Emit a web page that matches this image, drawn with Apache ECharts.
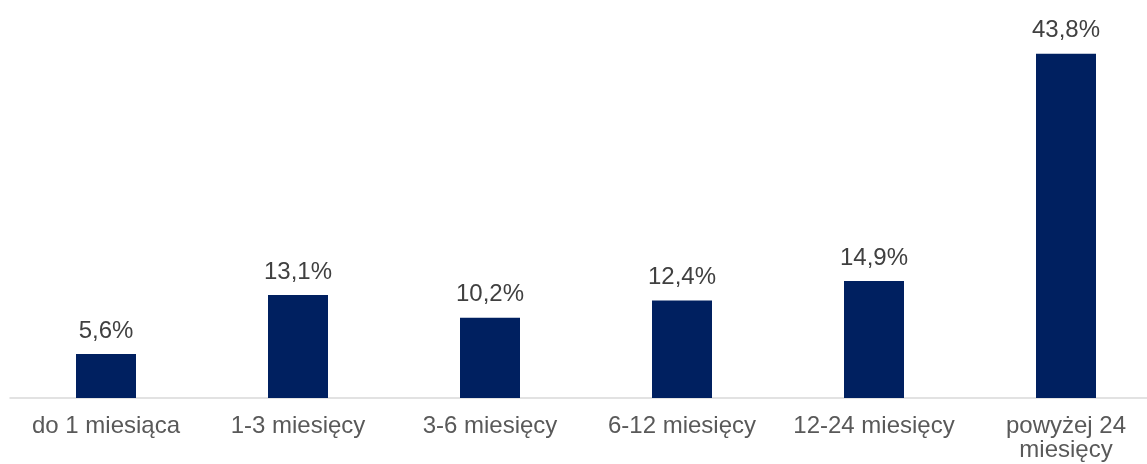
<!DOCTYPE html>
<html>
<head>
<meta charset="utf-8">
<script src="https://cdn.jsdelivr.net/npm/echarts@6/dist/echarts.min.js"></script>
<style>html,body{margin:0;padding:0;background:#fff;overflow:hidden;width:1147px;height:464px;}#c{width:1162px;height:464px;}</style>
</head>
<body>
<div id="c"></div>
<script>
const categories = ['do 1 miesiąca', '1-3 miesięcy', '3-6 miesięcy', '6-12 miesięcy', '12-24 miesięcy', 'powyżej 24\nmiesięcy'];
const values = [5.6, 13.1, 10.2, 12.4, 14.9, 43.8];

const chart = echarts.init(document.getElementById('c'));
chart.setOption({
  animation: false,
  grid: { left: 10, right: 0, top: 5, bottom: 66, containLabel: false },
  xAxis: {
    type: 'category',
    data: categories,
    axisLine: { lineStyle: { color: '#d9d9d9', width: 1.5 } },
    axisTick: { show: false },
    axisLabel: { color: '#595959', fontFamily: 'Liberation Sans, Arial, sans-serif', fontSize: 24, margin: 16, lineHeight: 24, interval: 0 }
  },
  yAxis: {
    type: 'value', min: 0, max: 50, show: false,
    splitLine: { show: false }
  },
  series: [{
    type: 'bar',
    data: values,
    barWidth: 60,
    itemStyle: { color: '#002060' },
    label: {
      show: true, position: 'top', distance: 11,
      color: '#404040', fontFamily: 'Liberation Sans, Arial, sans-serif', fontSize: 24,
      formatter: p => p.value.toFixed(1).replace('.', ',') + '%'
    }
  }]
});
</script>
</body>
</html>
